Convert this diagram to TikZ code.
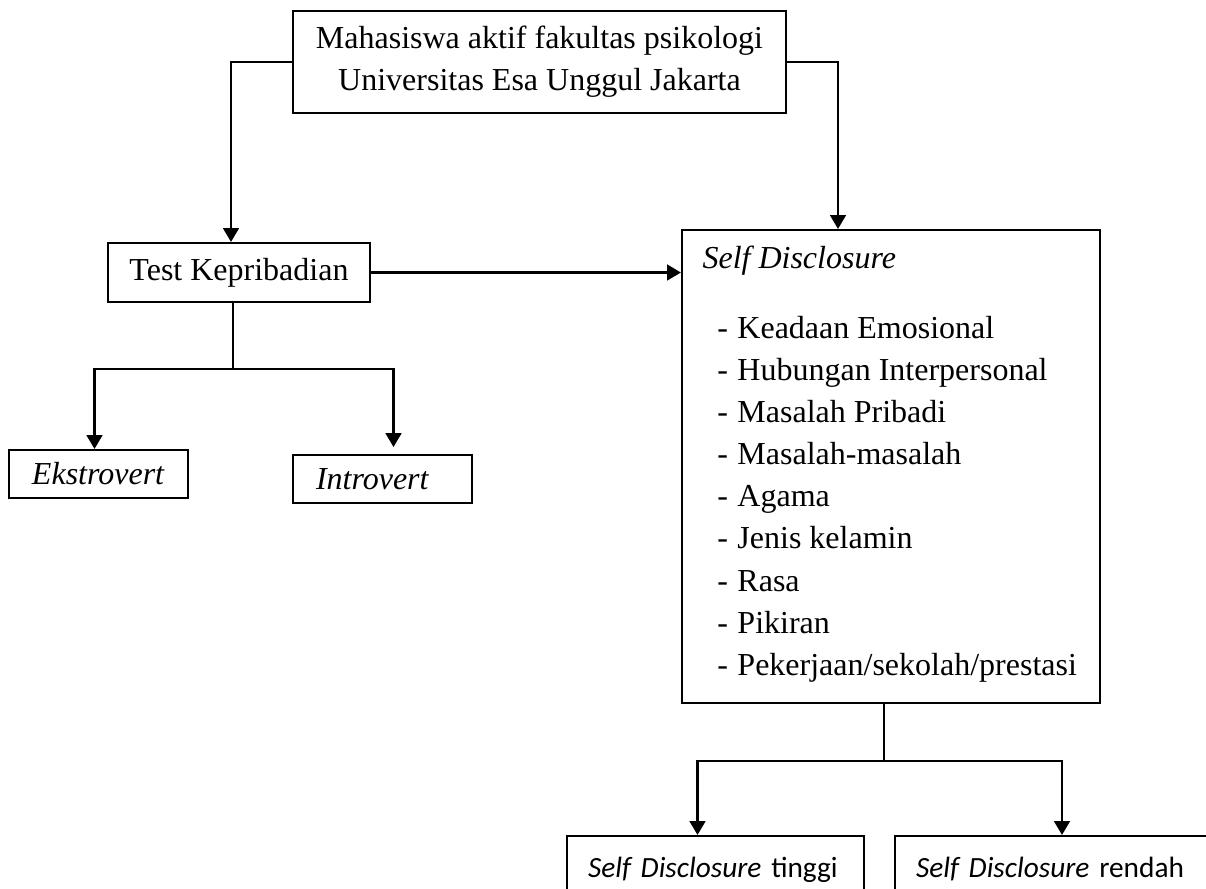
\documentclass[tikz,border=0pt]{standalone}
\usepackage{fontspec}
\setmainfont{Liberation Serif}
\newfontfamily\calibri{Carlito}
\usetikzlibrary{arrows.meta, calc}

\newdimen\px \px=0.375pt
\newcommand{\sditem}{\hspace*{5.6pt}\makebox[7.5pt][l]{-}}

\begin{document}
\begin{tikzpicture}[x=0.375pt, y=-0.375pt,
  box/.style={draw, line width=0.75pt, inner sep=0pt, anchor=north west,
    font=\fontsize{12}{15.8}\selectfont},
  sans box/.style={box, font=\calibri\fontsize{11}{13}\selectfont,
    minimum height=67\px, inner xsep=21\px, align=left},
  arrow/.style={-{Triangle[length=5.2pt, width=5.8pt]}, line width=1.1pt},
  link/.style={line width=0.75pt}]
  \useasboundingbox (0,0) rectangle (1206,888);
  \clip (0,0) rectangle (1206,888);

  \node[box, minimum width=493\px, minimum height=102\px, align=center] (mhs) at (292,10)
    {Mahasiswa aktif fakultas psikologi\\Universitas Esa Unggul Jakarta};
  \node[box, minimum width=262\px, minimum height=59\px] (test) at (107,242) {Test Kepribadian};
  \node[box, minimum height=48\px, text width=133\px, inner xsep=23\px, align=left] (ekstro) at (8,449)
    {\textit{Ekstrovert}};
  \node[box, minimum height=48\px, text width=133\px, inner xsep=23\px, align=left] (intro) at (292,454)
    {\textit{Introvert}};

  % self disclosure box and its list
  \node[box, minimum width=418\px, minimum height=473\px] (sd) at (681,229) {};
  \node[anchor=north west, inner sep=0pt, align=left, font=\fontsize{12}{15.8}\selectfont] (sdlist) at (702,245)
    {\textit{Self Disclosure}\\[10.5pt]
     \sditem Keadaan Emosional\\
     \sditem Hubungan Interpersonal\\
     \sditem Masalah Pribadi\\
     \sditem Masalah-masalah\\
     \sditem Agama\\
     \sditem Jenis kelamin\\
     \sditem Rasa\\
     \sditem Pikiran\\
     \sditem Pekerjaan/sekolah/prestasi};

  \node[sans box, text width=255\px] (tinggi) at (566,835) {\textit{Self Disclosure} tinggi};
  \node[sans box, text width=288\px] (rendah) at (894,835) {\textit{Self Disclosure} rendah};

  \draw[arrow] (mhs.west) -| ($(test.north)+(-8,0)$);
  \draw[arrow] (mhs.east) -| ($(sd.north)+(-53,0)$);
  \draw[arrow] (test.east) -- (test.east -| sd.west);

  \draw[link] ($(test.south)+(-6,0)$) -- ++(0,66) coordinate (fork1);
  \draw[arrow] (fork1) -| ($(ekstro.north)+(-4,0)$);
  \draw[arrow, shorten >=2.6pt] (fork1) -| ($(intro.north)+(11,0)$);

  \draw[link] ($(sd.south)+(-7,0)$) -- ++(0,57) coordinate (fork2);
  \draw[arrow] (fork2) -| ($(tinggi.north)+(-18,0)$);
  \draw[arrow] (fork2) -| ($(rendah.north)+(2,0)$);
\end{tikzpicture}
\end{document}
